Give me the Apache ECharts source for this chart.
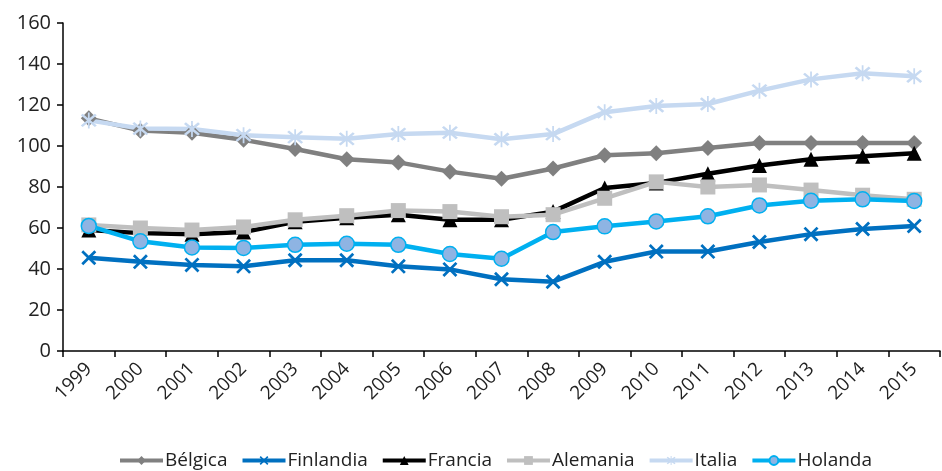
<!DOCTYPE html>
<html>
<head>
<meta charset="utf-8">
<script src="https://cdn.jsdelivr.net/npm/echarts@6/dist/echarts.min.js"></script>
<style>
  html, body { margin: 0; padding: 0; background: #fff; }
  #main { width: 942px; height: 471px; }
</style>
</head>
<body>
<div id="main"></div>
<script>
var years = ['1999', '2000', '2001', '2002', '2003', '2004', '2005', '2006', '2007',
             '2008', '2009', '2010', '2011', '2012', '2013', '2014', '2015'];

var belgica   = [113.5, 107.5, 106.5, 103, 98.5, 93.5, 92, 87.5, 84, 89, 95.5, 96.5, 99, 101.5, 101.5, 101.5, 101.5];
var finlandia = [45.5, 43.5, 42, 41.3, 44.3, 44.3, 41.3, 39.8, 35, 33.8, 43.5, 48.5, 48.5, 53.2, 57, 59.5, 61];
var francia   = [59, 57.5, 57, 58, 63, 65, 66.5, 64, 64, 68, 79.5, 82, 86.5, 90.5, 93.5, 95, 96.5];
var alemania  = [61.5, 60, 59, 60.5, 64, 66, 68.5, 68, 65.5, 66.5, 74.5, 82.5, 80, 81, 78.5, 76, 74];
var italia    = [112.5, 108.5, 108.3, 105.3, 104.3, 103.5, 105.8, 106.5, 103.3, 105.8, 116.5, 119.5, 120.5, 127, 132.5, 135.5, 134];
var holanda   = [61, 53.5, 50.5, 50.3, 51.8, 52.3, 51.8, 47.3, 45, 58, 60.8, 63.2, 65.7, 71, 73.3, 74, 73.2];

var yTicks = { min: 0, max: 160, interval: 20 };

// x and asterisk markers built from thin bars
var xMark = 'path://M0,1.3 L1.3,0 L10,8.7 L8.7,10 Z M8.7,0 L10,1.3 L1.3,10 L0,8.7 Z';
var starMark = 'path://M0,1.2 L1.2,0 L10,8.8 L8.8,10 Z M8.8,0 L10,1.2 L1.2,10 L0,8.8 Z M4.45,-1 L5.55,-1 L5.55,11 L4.45,11 Z';

var font = '"Open Sans", sans-serif';

var chartDom = document.getElementById('main');
var myChart = echarts.init(chartDom);
var option;

function mkSeries(name, data, color, symbol, size, extra) {
  var s = {
    name: name,
    type: 'line',
    data: data,
    symbol: symbol,
    symbolSize: size,
    lineStyle: { color: color, width: 4.5 },
    itemStyle: { color: color },
    emphasis: { disabled: true }
  };
  if (extra) Object.assign(s, extra);
  return s;
}

option = {
  animation: false,
  grid: { left: 63, right: 2, top: 23, bottom: 120 },
  legend: {
    top: 446,
    left: 113,
    itemWidth: 43,
    itemHeight: 11,
    itemGap: 13,
    lineStyle: { width: 4 },
    textStyle: { fontFamily: font, fontSize: 19, color: '#222', padding: [0, 0, 0, -3] },
    data: ['Bélgica', 'Finlandia', 'Francia', 'Alemania', 'Italia', 'Holanda']
  },
  xAxis: {
    type: 'category',
    data: years,
    boundaryGap: true,
    axisLine: { lineStyle: { color: '#000', width: 1.5 } },
    axisTick: { show: true, length: 6, lineStyle: { color: '#000', width: 1.5 } },
    axisLabel: { rotate: 45, margin: 15, fontFamily: font, fontSize: 19, color: '#222', interval: 0 }
  },
  yAxis: {
    type: 'value',
    min: yTicks.min,
    max: yTicks.max,
    interval: yTicks.interval,
    splitLine: { show: false },
    axisLine: { show: true, lineStyle: { color: '#000', width: 1.5 } },
    axisTick: { show: true, length: 6, lineStyle: { color: '#000', width: 1.5 } },
    axisLabel: { margin: 12, fontFamily: font, fontSize: 20, color: '#222' }
  },
  series: [
    mkSeries('Bélgica', belgica, '#808080', 'diamond', 16),
    mkSeries('Finlandia', finlandia, '#0070C0', xMark, 15),
    mkSeries('Francia', francia, '#000000', 'triangle', 15),
    mkSeries('Alemania', alemania, '#BFBFBF', 'rect', 15),
    mkSeries('Italia', italia, '#C6D9F1', starMark, 16),
    mkSeries('Holanda', holanda, '#00B0F0', 'circle', 15, {
      itemStyle: { color: '#8EB4E3', borderColor: '#00B0F0', borderWidth: 1.5 }
    })
  ]
};

option && myChart.setOption(option);
</script>
</body>
</html>
